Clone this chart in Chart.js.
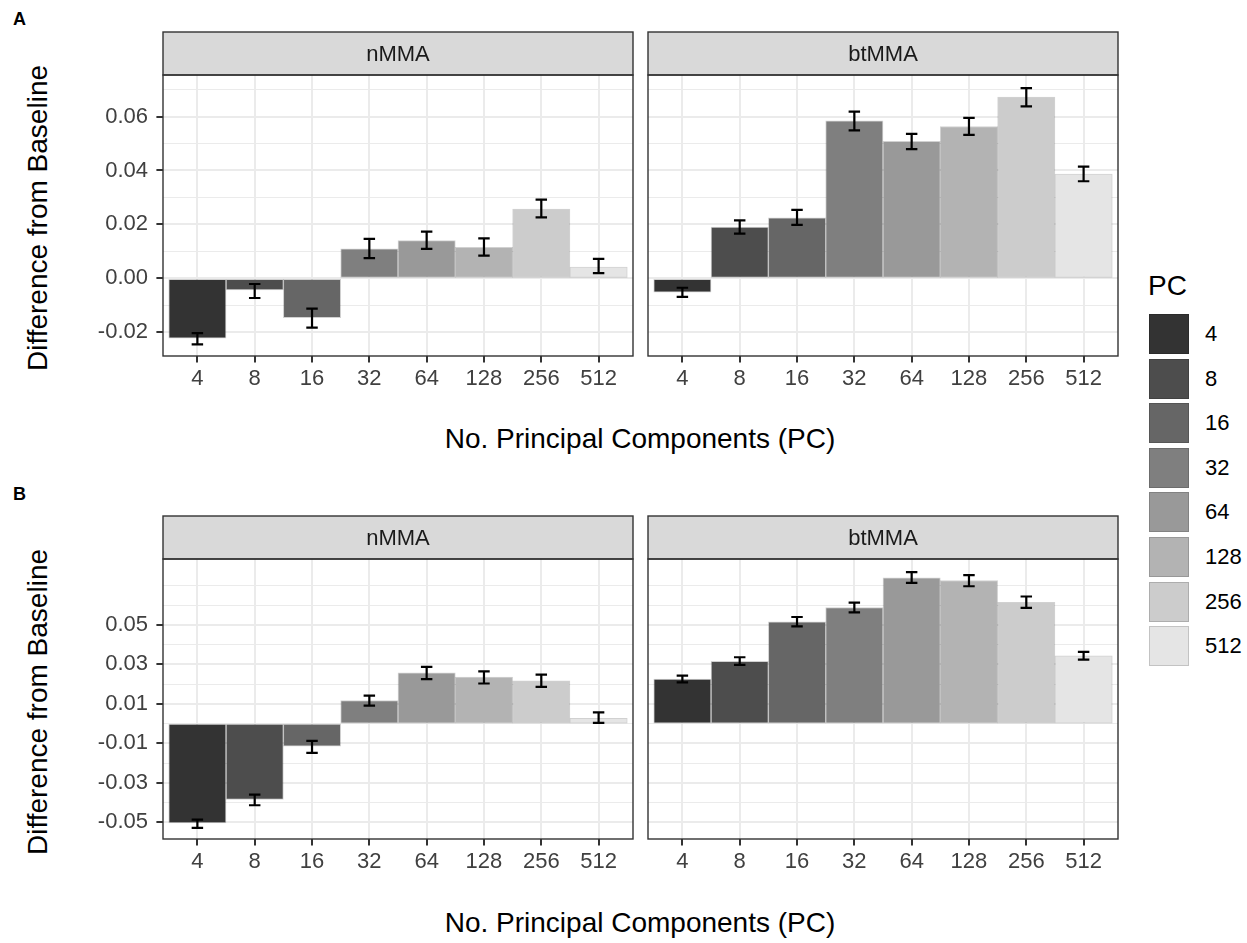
<!DOCTYPE html>
<html>
<head>
<meta charset="utf-8">
<script src="https://cdn.jsdelivr.net/npm/chart.js@4.4.1/dist/chart.umd.min.js"></script>
<style>
  body { margin: 0; background: #fff; width: 1247px; height: 943px; position: relative; overflow: hidden;
         font-family: "Liberation Sans", Arial, sans-serif; }
  canvas { position: absolute; }
  .txt { position: absolute; white-space: nowrap; color: #000; }
  .ytitle { width: 400px; height: 34px; line-height: 34px; font-size: 28px; text-align: center; transform: rotate(-90deg); }
  .xtitle { width: 600px; height: 34px; line-height: 34px; font-size: 28px; text-align: center; }
  .tag { font-size: 18px; font-weight: bold; line-height: 18px; }
  .key { position: absolute; width: 40px; height: 40px; box-sizing: border-box; border: 1px solid rgba(0,0,0,0.15); }
  .klab { font-size: 22px; height: 40px; line-height: 40px; }
</style>
</head>
<body>
<div class="txt tag" style="left:13px;top:10px;">A</div>
<div class="txt tag" style="left:13px;top:485px;">B</div>
<div class="txt ytitle" style="left:-162px;top:201px;">Difference from Baseline</div>
<div class="txt ytitle" style="left:-162px;top:685px;">Difference from Baseline</div>
<div class="txt xtitle" style="left:340px;top:422px;">No. Principal Components (PC)</div>
<div class="txt xtitle" style="left:340px;top:906px;">No. Principal Components (PC)</div>
<div class="txt" style="left:1148px;top:272px;font-size:28px;line-height:28px;">PC</div>
<div id="legend"></div>

<script>
// categories and fill shades
const categories = ['4', '8', '16', '32', '64', '128', '256', '512'];
const greys = ['#333333', '#4d4d4d', '#666666', '#7f7f7f', '#999999', '#b3b3b3', '#cccccc', '#e5e5e5'];

// A: nMMA
const aNmma   = [-0.0222, -0.0043, -0.0146, 0.0109, 0.0140, 0.0115, 0.0257, 0.0042];
const aNmmaLo = [-0.0245, -0.0073, -0.0183, 0.0075, 0.0109, 0.0084, 0.0226, 0.0019];
const aNmmaHi = [-0.0203, -0.0021, -0.0112, 0.0146, 0.0173, 0.0148, 0.0292, 0.0072];
// A: btMMA
const aBtmma   = [-0.0051, 0.0190, 0.0224, 0.0584, 0.0508, 0.0563, 0.0672, 0.0387];
const aBtmmaLo = [-0.0069, 0.0166, 0.0198, 0.0549, 0.0479, 0.0532, 0.0638, 0.0360];
const aBtmmaHi = [-0.0035, 0.0215, 0.0254, 0.0618, 0.0536, 0.0595, 0.0705, 0.0414];
// B: nMMA
const bNmma   = [-0.0504, -0.0385, -0.0115, 0.0117, 0.0257, 0.0236, 0.0216, 0.0027];
const bNmmaLo = [-0.0529, -0.0414, -0.0149, 0.0091, 0.0225, 0.0203, 0.0186, 0.0003];
const bNmmaHi = [-0.0487, -0.0360, -0.0088, 0.0142, 0.0287, 0.0265, 0.0248, 0.0057];
// B: btMMA
const bBtmma   = [0.0226, 0.0316, 0.0515, 0.0588, 0.0738, 0.0725, 0.0615, 0.0343];
const bBtmmaLo = [0.0209, 0.0297, 0.0493, 0.0563, 0.0713, 0.0696, 0.0586, 0.0324];
const bBtmmaHi = [0.0243, 0.0336, 0.0540, 0.0613, 0.0767, 0.0752, 0.0644, 0.0363];

// y ticks (labelled) and minor grid values
const aMajor = [-0.02, 0, 0.02, 0.04, 0.06];
const aMinor = [-0.01, 0.01, 0.03, 0.05, 0.07];
const bMajor = [-0.05, -0.03, -0.01, 0.01, 0.03, 0.05];
const bMinor = [-0.04, -0.02, 0, 0.02, 0.04, 0.06, 0.07];
const aLimits = [-0.0288, 0.0754];
const bLimits = [-0.0585, 0.0834];

Chart.defaults.font.family = '"Liberation Sans", Arial, sans-serif';

const STRIP_H = 43, PAD = 4, XAXIS_H = 44;

function makePanel(p) {
  const yw = p.showY ? 100 : 0;
  const cv = document.createElement('canvas');
  const cw = p.width + yw + 2 * PAD, ch = p.height + STRIP_H + PAD + XAXIS_H + PAD;
  cv.width = cw; cv.height = ch;
  cv.style.left = (p.left - yw - PAD) + 'px';
  cv.style.top = (p.top - STRIP_H - PAD) + 'px';
  cv.style.width = cw + 'px'; cv.style.height = ch + 'px';
  document.body.appendChild(cv);

  const yTicks = p.major.concat(p.minor).sort((a, b) => a - b);
  const isMajor = v => p.major.some(m => Math.abs(m - v) < 1e-9);

  const errorBars = {
    id: 'errorBars',
    afterDatasetsDraw(chart) {
      const { ctx, scales: { x, y } } = chart;
      ctx.save();
      ctx.strokeStyle = '#000';
      ctx.lineWidth = 2.2;
      p.lo.forEach((lo, i) => {
        const xc = x.getPixelForValue(i + 1);
        const x0 = x.getPixelForValue(i + 0.9), x1 = x.getPixelForValue(i + 1.1);
        const y0 = y.getPixelForValue(lo), y1 = y.getPixelForValue(p.hi[i]);
        ctx.beginPath();
        ctx.moveTo(xc, y0); ctx.lineTo(xc, y1);
        ctx.moveTo(x0, y0); ctx.lineTo(x1, y0);
        ctx.moveTo(x0, y1); ctx.lineTo(x1, y1);
        ctx.stroke();
      });
      ctx.restore();
    }
  };

  const panelDecor = {
    id: 'panelDecor',
    afterDraw(chart) {
      const { ctx, chartArea: a } = chart;
      const w = a.right - a.left;
      ctx.save();
      ctx.fillStyle = '#d9d9d9';
      ctx.fillRect(a.left, a.top - STRIP_H, w, STRIP_H);
      ctx.strokeStyle = '#333333';
      ctx.lineWidth = 1.4;
      ctx.strokeRect(a.left, a.top - STRIP_H, w, STRIP_H);
      ctx.strokeRect(a.left, a.top, w, a.bottom - a.top);
      ctx.fillStyle = '#1a1a1a';
      ctx.font = '22px "Liberation Sans", Arial, sans-serif';
      ctx.textAlign = 'center';
      ctx.textBaseline = 'middle';
      ctx.fillText(p.strip, a.left + w / 2, a.top - STRIP_H / 2 + 1);
      ctx.restore();
    }
  };

  new Chart(cv, {
    type: 'bar',
    data: {
      datasets: [{
        data: p.values.map((v, i) => ({ x: i + 1, y: v })),
        backgroundColor: greys,
        borderColor: 'rgba(0,0,0,0.18)',
        borderWidth: 1,
        borderSkipped: false,
        barPercentage: 1,
        categoryPercentage: 1
      }]
    },
    options: {
      responsive: false,
      animation: false,
      layout: { padding: { left: PAD, right: PAD, top: STRIP_H + PAD, bottom: PAD } },
      plugins: { legend: { display: false }, tooltip: { enabled: false } },
      scales: {
        x: {
          type: 'linear', min: 0.4, max: 8.6, offset: false,
          afterBuildTicks: s => { s.ticks = categories.map((c, i) => ({ value: i + 1 })); },
          afterFit: s => { s.height = XAXIS_H; },
          border: { display: false },
          grid: { offset: false, color: '#ebebeb', lineWidth: 2, tickColor: '#333333', tickLength: 6.6, tickWidth: 2 },
          ticks: { autoSkip: false, maxRotation: 0, padding: 3.5, color: '#404040', font: { size: 22 },
                   callback: v => categories[Math.round(v) - 1] }
        },
        y: {
          type: 'linear', min: p.limits[0], max: p.limits[1],
          afterBuildTicks: s => { s.ticks = yTicks.map(v => ({ value: v })); },
          afterFit: s => { s.width = yw; },
          border: { display: false },
          grid: {
            color: '#ebebeb',
            lineWidth: c => (c.tick && isMajor(c.tick.value)) ? 2 : 1,
            tickColor: c => (c.tick && isMajor(c.tick.value)) ? '#333333' : 'rgba(0,0,0,0)',
            tickLength: 6.6, tickWidth: 2, drawTicks: p.showY
          },
          ticks: { display: p.showY, autoSkip: false, padding: 8.4, color: '#404040', font: { size: 22 },
                   callback: v => isMajor(v) ? v.toFixed(2) : '' }
        }
      }
    },
    plugins: [errorBars, panelDecor]
  });
}

makePanel({ left: 163, top: 75, width: 470, height: 281, showY: true, strip: 'nMMA',
            values: aNmma, lo: aNmmaLo, hi: aNmmaHi, limits: aLimits, major: aMajor, minor: aMinor });
makePanel({ left: 648, top: 75, width: 470, height: 281, showY: false, strip: 'btMMA',
            values: aBtmma, lo: aBtmmaLo, hi: aBtmmaHi, limits: aLimits, major: aMajor, minor: aMinor });
makePanel({ left: 163, top: 559, width: 470, height: 280, showY: true, strip: 'nMMA',
            values: bNmma, lo: bNmmaLo, hi: bNmmaHi, limits: bLimits, major: bMajor, minor: bMinor });
makePanel({ left: 648, top: 559, width: 470, height: 280, showY: false, strip: 'btMMA',
            values: bBtmma, lo: bBtmmaLo, hi: bBtmmaHi, limits: bLimits, major: bMajor, minor: bMinor });

// legend built from the same categories and shades
const legend = document.getElementById('legend');
categories.forEach((c, i) => {
  const top = 314 + i * 44.6;
  const k = document.createElement('div');
  k.className = 'key';
  k.style.left = '1149px'; k.style.top = top + 'px'; k.style.background = greys[i];
  legend.appendChild(k);
  const t = document.createElement('div');
  t.className = 'txt klab';
  t.style.left = '1205px'; t.style.top = top + 'px';
  t.textContent = c;
  legend.appendChild(t);
});
</script>
</body>
</html>
